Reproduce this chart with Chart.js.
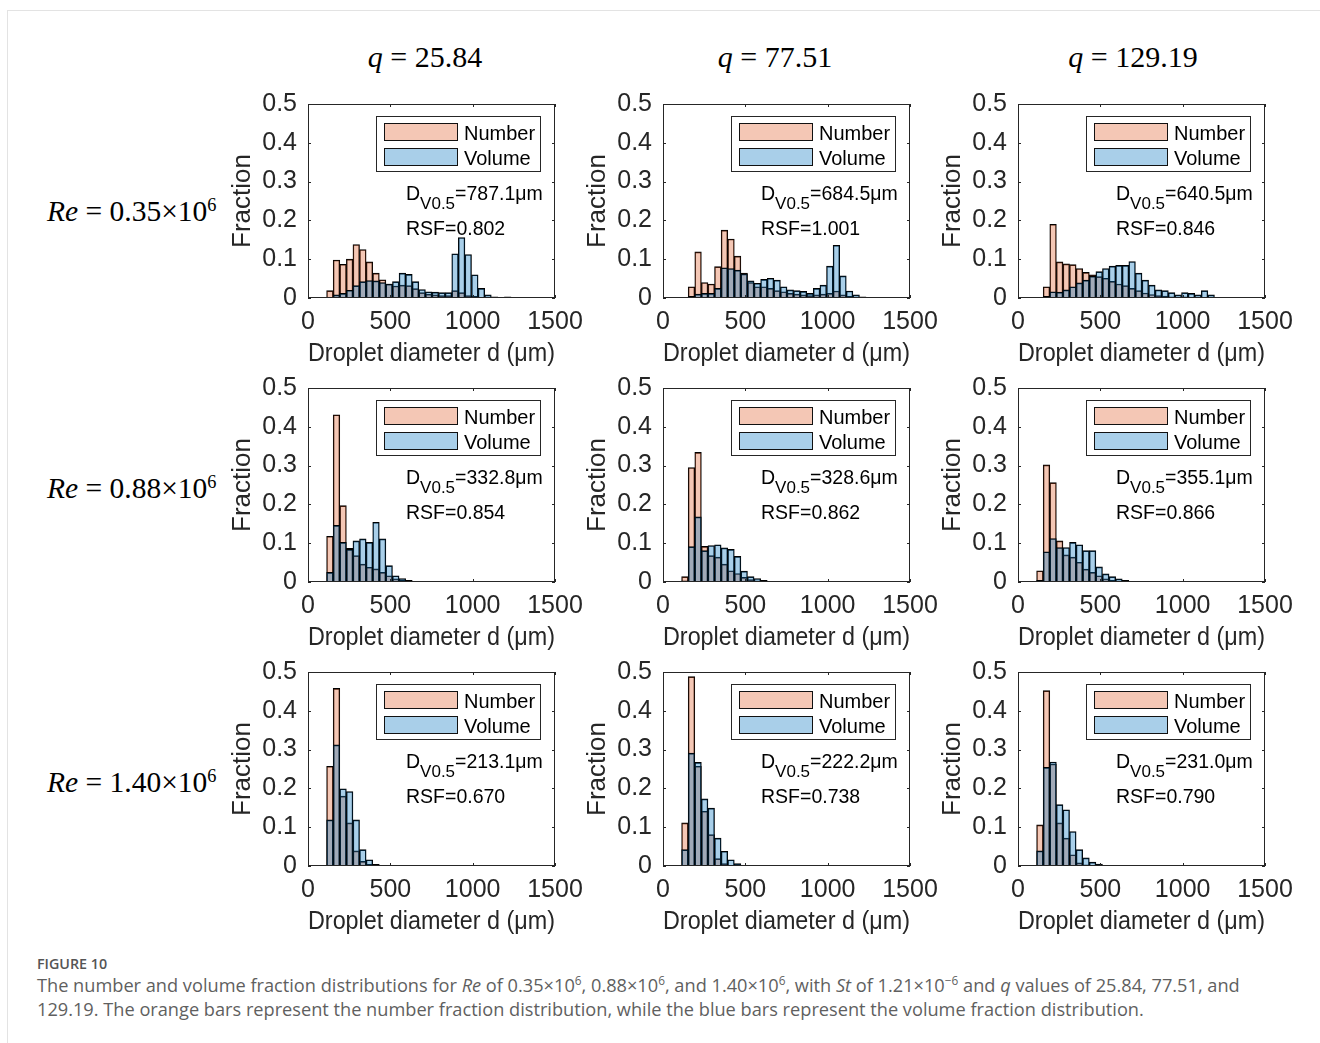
<!DOCTYPE html>
<html>
<head>
<meta charset="utf-8">
<script src="https://cdn.jsdelivr.net/npm/chart.js@4.4.1/dist/chart.umd.min.js"></script>
<style>
  body { margin: 0; background: #fff; width: 1320px; height: 1043px; position: relative; overflow: hidden;
         font-family: 'Liberation Sans', Arial, sans-serif; color: #262626; }
  .frame { position: absolute; left: 7px; top: 10px; right: -2px; bottom: -2px; border-top: 1px solid #e3e3e3; border-left: 1px solid #e3e3e3; }
  canvas { position: absolute; }
  .colTitle, .rowTitle { position: absolute; font-family: 'Liberation Serif', 'Times New Roman', serif; color: #000; white-space: nowrap; }
  .colTitle { font-size: 30px; line-height: 34px; transform: translateX(-50%); }
  .rowTitle { font-size: 29.5px; line-height: 32px; }
  .rowTitle sup { font-size: 62%; vertical-align: 0.55em; line-height: 0; }
  .legend { position: absolute; width: 165px; height: 56px; border: 1px solid #262626; background: #fff; box-sizing: border-box; }
  .swatch { position: absolute; left: 7px; width: 74px; height: 18px; border: 1.5px solid #111; box-sizing: border-box; }
  .legText { position: absolute; left: 87px; font-size: 20px; line-height: 24px; color: #000; }
  .note { position: absolute; font-size: 19.5px; line-height: 24px; color: #000; white-space: nowrap; }
  .note sub { font-size: 17px; vertical-align: baseline; position: relative; top: 9px; }
  .figLabel { position: absolute; font-family: 'Open Sans', sans-serif; font-size: 14.3px; font-weight: 600; color: #555; }
  .caption { position: absolute; font-family: 'Open Sans', sans-serif; font-size: 18.2px; line-height: 24px; color: #5f5f5f; white-space: nowrap; }
  .caption sup { font-size: 65%; line-height: 0; }
</style>
</head>
<body>
<div class="frame"></div>
<script>
// shared bin centres (um) and axis ticks
const binCenters = [133, 173, 213, 253, 293, 333, 373, 413, 453, 493, 533, 573, 613, 653, 693,
                    733, 773, 813, 853, 893, 933, 973, 1013, 1053, 1093, 1133, 1173, 1213, 1253, 1293];
const xTicks = [0, 500, 1000, 1500];
const yTicks = [0, 0.1, 0.2, 0.3, 0.4, 0.5];

const reLabels = ['0.35', '0.88', '1.40'];
const qLabels = ['25.84', '77.51', '129.19'];
const dv05 = ['787.1', '684.5', '640.5', '332.8', '328.6', '355.1', '213.1', '222.2', '231.0'];
const rsf = ['0.802', '1.001', '0.846', '0.854', '0.862', '0.866', '0.670', '0.738', '0.790'];

// number fraction / volume fraction per bin
const numR1Q1 = [0.019, 0.098, 0.087, 0.100, 0.138, 0.125, 0.093, 0.064, 0.047, 0.036, 0.031, 0.033, 0.032, 0.024, 0.014, 0.010, 0.008, 0.006, 0.006, 0.019, 0.014, 0.006, 0.004, 0.002, 0.001, 0, 0, 0.001];
const volR1Q1 = [0.001, 0.008, 0.012, 0.020, 0.032, 0.042, 0.045, 0.044, 0.040, 0.036, 0.042, 0.064, 0.061, 0.042, 0.022, 0.016, 0.015, 0.014, 0.014, 0.114, 0.156, 0.112, 0.060, 0.025, 0.008, 0.003, 0.001, 0.003];
const numR1Q2 = [0, 0.029, 0.119, 0.040, 0.036, 0.081, 0.175, 0.152, 0.108, 0.064, 0.040, 0.029, 0.029, 0.025, 0.019, 0.016, 0.012, 0.010, 0.008, 0.006, 0.008, 0.010, 0.012, 0.018, 0.008, 0.004, 0.002, 0.001];
const volR1Q2 = [0, 0.004, 0.010, 0.012, 0.012, 0.025, 0.078, 0.076, 0.072, 0.062, 0.044, 0.038, 0.048, 0.051, 0.046, 0.029, 0.021, 0.019, 0.017, 0.012, 0.025, 0.033, 0.082, 0.136, 0.057, 0.018, 0.008, 0.003, 0.001];
const numR1Q3 = [0, 0.029, 0.190, 0.093, 0.088, 0.086, 0.076, 0.066, 0.060, 0.055, 0.051, 0.043, 0.036, 0.032, 0.025, 0.019, 0.013, 0.009, 0.006, 0.005, 0.003, 0.002, 0.003, 0.002, 0.001, 0.002, 0.001];
const volR1Q3 = [0, 0.004, 0.016, 0.015, 0.021, 0.029, 0.039, 0.046, 0.056, 0.068, 0.076, 0.082, 0.084, 0.084, 0.094, 0.064, 0.046, 0.033, 0.021, 0.019, 0.014, 0.008, 0.014, 0.012, 0.008, 0.019, 0.008];
const numR2Q1 = [0.118, 0.431, 0.197, 0.087, 0.068, 0.046, 0.038, 0.034, 0.025, 0.016, 0.008, 0.004, 0.002, 0.001];
const volR2Q1 = [0.025, 0.146, 0.102, 0.084, 0.106, 0.111, 0.102, 0.154, 0.111, 0.042, 0.016, 0.009, 0.004, 0.002, 0.001];
const numR2Q2 = [0.014, 0.295, 0.334, 0.092, 0.068, 0.064, 0.046, 0.029, 0.022, 0.012, 0.006, 0.003, 0.001];
const volR2Q2 = [0.003, 0.091, 0.168, 0.081, 0.094, 0.096, 0.088, 0.084, 0.066, 0.028, 0.014, 0.009, 0.004, 0.002];
const numR2Q3 = [0.029, 0.302, 0.256, 0.106, 0.070, 0.064, 0.051, 0.033, 0.025, 0.016, 0.008, 0.004, 0.002, 0.001];
const volR2Q3 = [0.004, 0.078, 0.112, 0.089, 0.089, 0.102, 0.096, 0.081, 0.081, 0.039, 0.021, 0.014, 0.008, 0.004, 0.002];
const numR3Q1 = [0.257, 0.458, 0.180, 0.111, 0.039, 0.012, 0.004, 0.001];
const volR3Q1 = [0.119, 0.312, 0.199, 0.192, 0.119, 0.042, 0.016, 0.004, 0.001];
const numR3Q2 = [0.111, 0.488, 0.257, 0.141, 0.081, 0.019, 0.006, 0.002, 0.001];
const volR3Q2 = [0.042, 0.291, 0.267, 0.173, 0.149, 0.072, 0.038, 0.016, 0.006, 0.002];
const numR3Q3 = [0.106, 0.452, 0.263, 0.111, 0.072, 0.029, 0.008, 0.003, 0.001];
const volR3Q3 = [0.039, 0.254, 0.268, 0.158, 0.145, 0.089, 0.042, 0.021, 0.010, 0.005, 0.002];

const numberSeries = [numR1Q1, numR1Q2, numR1Q3, numR2Q1, numR2Q2, numR2Q3, numR3Q1, numR3Q2, numR3Q3];
const volumeSeries = [volR1Q1, volR1Q2, volR1Q3, volR2Q1, volR2Q2, volR2Q3, volR3Q1, volR3Q2, volR3Q3];

const plotLefts = [308, 663, 1018];
const plotTops = [104, 388, 672];
const PW = 247, PH = 194;
const Y_AXIS_W = 81, X_AXIS_H = 71, PAD_TOP = 28, PAD_RIGHT = 40;

const numberFill = 'rgba(224,95,44,0.35)';
const volumeFill = 'rgba(9,118,192,0.35)';

// MATLAB-style box with inward ticks
const axesBox = {
  id: 'axesBox',
  afterDatasetsDraw(chart) {
    const { ctx, chartArea: a, scales: { x, y } } = chart;
    ctx.save();
    ctx.strokeStyle = '#262626';
    ctx.lineWidth = 1;
    ctx.strokeRect(a.left + 0.5, a.top + 0.5, a.width - 1, a.height - 1);
    ctx.beginPath();
    xTicks.forEach(v => {
      const px = Math.round(x.getPixelForValue(v)) + 0.5;
      ctx.moveTo(px, a.bottom); ctx.lineTo(px, a.bottom - 3);
      ctx.moveTo(px, a.top); ctx.lineTo(px, a.top + 3);
    });
    yTicks.forEach(v => {
      const py = Math.round(y.getPixelForValue(v)) + 0.5;
      ctx.moveTo(a.left, py); ctx.lineTo(a.left + 3, py);
      ctx.moveTo(a.right, py); ctx.lineTo(a.right - 3, py);
    });
    ctx.stroke();
    ctx.restore();
  }
};

Chart.defaults.font.family = "'Liberation Sans', Arial, sans-serif";
Chart.defaults.color = '#262626';

function addDiv(cls, left, top, html) {
  const d = document.createElement('div');
  d.className = cls;
  d.style.left = left + 'px';
  d.style.top = top + 'px';
  d.innerHTML = html;
  document.body.appendChild(d);
  return d;
}

const colCenters = [425, 775, 1133];
qLabels.forEach((q, c) => addDiv('colTitle', colCenters[c], 40, `<i>q</i> = ${q}`));
const rowCenters = [211, 488, 782];
reLabels.forEach((re, r) => addDiv('rowTitle', 47, rowCenters[r] - 16, `<i>Re</i> = ${re}×10<sup>6</sup>`));

for (let r = 0; r < 3; r++) {
  for (let c = 0; c < 3; c++) {
    const k = r * 3 + c;
    const pl = plotLefts[c], pt = plotTops[r];
    const canvas = document.createElement('canvas');
    canvas.width = Y_AXIS_W + PW + PAD_RIGHT;
    canvas.height = PAD_TOP + PH + X_AXIS_H;
    canvas.style.left = (pl - Y_AXIS_W) + 'px';
    canvas.style.top = (pt - PAD_TOP) + 'px';
    document.body.appendChild(canvas);

    const toPoints = arr => arr.map((y, i) => ({ x: binCenters[i], y }));
    const barStyle = { borderColor: '#000', borderWidth: { top: 1, left: 0.8, right: 0.8, bottom: 0 },
                       grouped: false, categoryPercentage: 1, barPercentage: 1 };

    new Chart(canvas, {
      type: 'bar',
      data: {
        datasets: [
          { label: 'Number', data: toPoints(numberSeries[k]), backgroundColor: numberFill, order: 2, ...barStyle },
          { label: 'Volume', data: toPoints(volumeSeries[k]), backgroundColor: volumeFill, order: 1, ...barStyle }
        ]
      },
      options: {
        responsive: false,
        animation: false,
        devicePixelRatio: 1,
        layout: { padding: { top: PAD_TOP, right: PAD_RIGHT, left: 0, bottom: 0 } },
        plugins: { legend: { display: false }, tooltip: { enabled: false } },
        scales: {
          x: {
            type: 'linear', min: 0, max: 1500, offset: false,
            grid: { display: false, drawTicks: false }, border: { display: false },
            ticks: { padding: 9, font: { size: 25 }, maxRotation: 0, callback: v => String(v) },
            afterBuildTicks: s => { s.ticks = xTicks.map(v => ({ value: v })); },
            afterFit: s => { s.height = X_AXIS_H; },
            title: { display: true, text: 'Droplet diameter d (μm)', font: { size: 26 }, padding: 0 }
          },
          y: {
            min: 0, max: 0.5,
            grid: { display: false, drawTicks: false }, border: { display: false },
            ticks: { padding: 11, font: { size: 25 }, callback: v => String(v) },
            afterBuildTicks: s => { s.ticks = yTicks.map(v => ({ value: v })); },
            afterFit: s => { s.width = Y_AXIS_W; },
            title: { display: true, text: 'Fraction', font: { size: 26 }, padding: 0 }
          }
        }
      },
      plugins: [axesBox]
    });

    addDiv('legend', pl + 68, pt + 12, `
      <div class="swatch" style="top:6px;background:#f4c7b5"></div><div class="legText" style="top:4px">Number</div>
      <div class="swatch" style="top:31px;background:#a9cfe9"></div><div class="legText" style="top:29px">Volume</div>`);
    addDiv('note', pl + 98, pt + 77, `D<sub>V0.5</sub>=${dv05[k]}μm`);
    addDiv('note', pl + 98, pt + 112, `RSF=${rsf[k]}`);
  }
}

addDiv('figLabel', 37, 954, 'FIGURE 10');
addDiv('caption', 37, 973,
  'The number and volume fraction distributions for <i>Re</i> of 0.35×10<sup>6</sup>, 0.88×10<sup>6</sup>, and 1.40×10<sup>6</sup>, with <i>St</i> of 1.21×10<sup>−6</sup> and <i>q</i> values of 25.84, 77.51, and<br>' +
  '129.19. The orange bars represent the number fraction distribution, while the blue bars represent the volume fraction distribution.');
</script>
</body>
</html>
